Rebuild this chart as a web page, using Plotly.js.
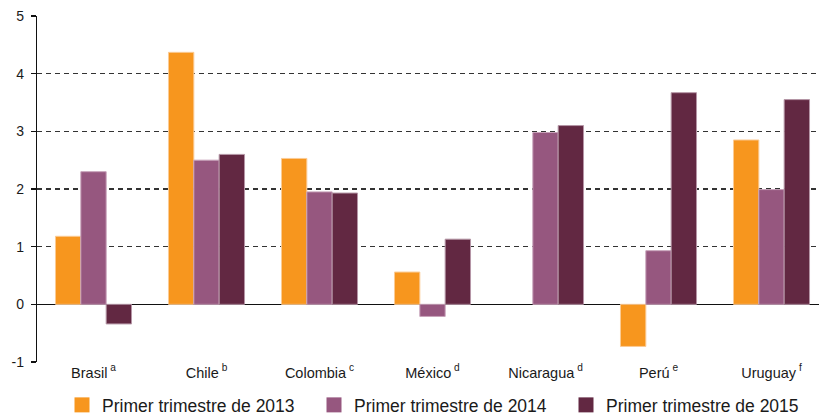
<!DOCTYPE html>
<html>
<head>
<meta charset="utf-8">
<script src="https://cdn.plot.ly/plotly-3.0.1.min.js"></script>
<style>html,body{margin:0;padding:0;background:#fff;}#chart{width:819px;height:417px;}</style>
</head>
<body>
<div id="chart"></div>
<script>
const categories = ["Brasil\u2009<sup>a</sup>", "Chile\u2009<sup>b</sup>", "Colombia\u2009<sup>c</sup>", "México\u2009<sup>d</sup>", "Nicaragua\u2009<sup>d</sup>", "Perú\u2009<sup>e</sup>", "Uruguay\u2009<sup>f</sup>"];
const seriesNames = ["Primer trimestre de 2013", "Primer trimestre de 2014", "Primer trimestre de 2015"];
const values2013 = [1.18, 4.37, 2.53, 0.56, null, -0.73, 2.85];
const values2014 = [2.30, 2.50, 1.95, -0.21, 2.98, 0.93, 1.99];
const values2015 = [-0.34, 2.60, 1.93, 1.13, 3.10, 3.67, 3.55];
const yTicks = [-1, 0, 1, 2, 3, 4, 5];
const yTickText = ["-1", "0", "1", "2", "3", "4", "5"];

const colors = ["#F7961E", "#96577F", "#622842"];
const rims = ["#FBCB95", "#C7A2B9", "#B596A6"];
const allValues = [values2013, values2014, values2015];

const idx = categories.map((c, i) => i);
const traces = allValues.map((vals, k) => ({
  type: "bar",
  x: idx,
  y: vals,
  name: seriesNames[k],
  marker: {color: colors[k], line: {color: rims[k], width: 1}},
  showlegend: false,
  hoverinfo: "skip"
}));
// legend entries
seriesNames.forEach((n, k) => traces.push({
  type: "scatter", mode: "markers", x: [null], y: [null], name: n,
  marker: {symbol: "square", size: 15, color: colors[k]},
  showlegend: true, hoverinfo: "skip"
}));

const xmax = -0.5 + 782 / 113;
const layout = {
  width: 819, height: 417,
  margin: {l: 37, r: 0, t: 16, b: 55},
  paper_bgcolor: "#fff", plot_bgcolor: "#fff",
  font: {family: "Liberation Sans, Arial, sans-serif", color: "#1a1a1a"},
  barmode: "group", bargap: 0.327, bargroupgap: 0,
  showlegend: true,
  legend: {orientation: "h", xref: "container", yref: "container",
           x: 62 / 819, xanchor: "left", y: 1 - 405 / 417, yanchor: "middle",
           font: {size: 17.5, color: "#1a1a1a"}, itemwidth: 30, entrywidth: 207,
           traceorder: "normal", bgcolor: "rgba(0,0,0,0)"},
  xaxis: {
    type: "linear", range: [-0.5, xmax],
    tickmode: "array", tickvals: idx, ticktext: categories,
    ticks: "", showgrid: false, zeroline: false, showline: false,
    tickfont: {size: 14.5, color: "#1a1a1a"}, ticklabelstandoff: 0
  },
  xaxis2: {
    type: "linear", overlaying: "x", anchor: "free", position: 1/6, side: "bottom",
    range: [-0.5, xmax], tickmode: "array", tickvals: idx.slice(0, -1).map(i => i + 0.5),
    ticks: "outside", ticklen: 7, tickwidth: 1.5, tickcolor: "#333",
    showticklabels: false, showgrid: false, zeroline: false, showline: false
  },
  yaxis: {
    range: [-1, 5], tickmode: "array", tickvals: yTicks, ticktext: yTickText,
    ticks: "outside", ticklen: 5, tickwidth: 1.2, tickcolor: "#111",
    showline: true, linecolor: "#111", linewidth: 1.2,
    showgrid: true, gridcolor: "#333", gridwidth: 1.3, griddash: "5px,4px",
    zeroline: true, zerolinecolor: "#111", zerolinewidth: 1.5,
    tickfont: {size: 14, color: "#1a1a1a"}, ticklabelstandoff: 4
  }
};
Plotly.newPlot("chart", traces, layout, {displayModeBar: false, staticPlot: true});
</script>
</body>
</html>
